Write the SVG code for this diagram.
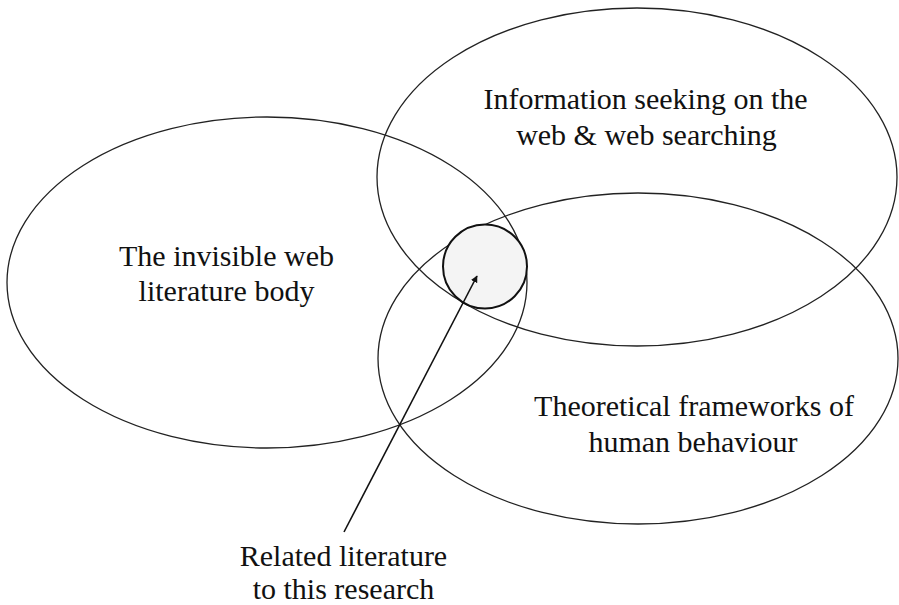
<svg xmlns="http://www.w3.org/2000/svg" width="899" height="605" viewBox="0 0 899 605">
  <style>
    .set { fill: none; stroke: #222; stroke-width: 1.3; }
    .core { fill: #f4f4f4; stroke: #111; stroke-width: 2; }
    .lbl { font-family: "Liberation Serif", "Times New Roman", serif; font-size: 30px; fill: #111; text-anchor: middle; }
    .ptr { stroke: #111; stroke-width: 1.6; fill: none; }
  </style>
  <defs>
    <marker id="head" viewBox="0 0 10 10" refX="9" refY="5" markerWidth="7" markerHeight="7" markerUnits="userSpaceOnUse" orient="auto">
      <path d="M0,0 L10,5 L0,10 z" fill="#111"/>
    </marker>
  </defs>
  <rect width="899" height="605" fill="#ffffff"/>

  <!-- three overlapping literature areas -->
  <g id="invisible-web">
    <ellipse class="set" cx="267" cy="282.5" rx="260" ry="165.5"/>
    <text class="lbl" x="226.5" y="266">The invisible web</text>
    <text class="lbl" x="226.5" y="301">literature body</text>
  </g>

  <g id="info-seeking">
    <ellipse class="set" cx="637" cy="177" rx="260" ry="169"/>
    <text class="lbl" x="645.5" y="109">Information seeking on the</text>
    <text class="lbl" x="646.5" y="145">web &amp; web searching</text>
  </g>

  <g id="frameworks">
    <ellipse class="set" cx="638" cy="358.5" rx="260" ry="165.5"/>
    <text class="lbl" x="694" y="416">Theoretical frameworks of</text>
    <text class="lbl" x="693" y="452">human behaviour</text>
  </g>

  <!-- shared core where all three meet -->
  <g id="related">
    <circle class="core" cx="485" cy="266.5" r="42"/>
    <text class="lbl" x="343.5" y="566">Related literature</text>
    <text class="lbl" x="343.5" y="599">to this research</text>
  </g>

  <g id="connectors">
    <line class="ptr" x1="344" y1="532" x2="477" y2="276" marker-end="url(#head)"/>
  </g>
</svg>
